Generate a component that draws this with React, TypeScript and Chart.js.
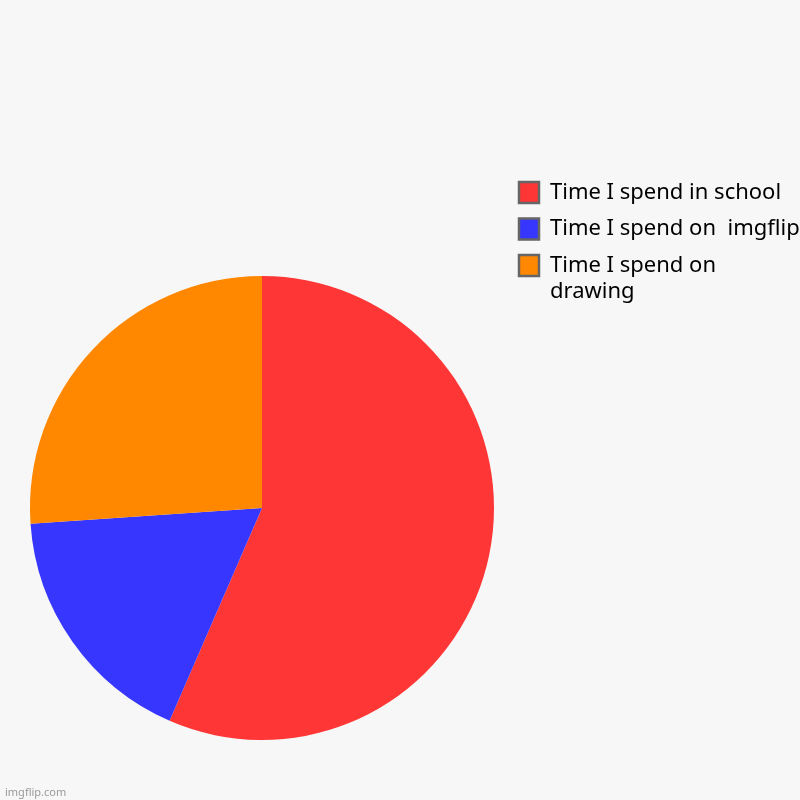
import React, { useEffect, useRef } from "react";
import Chart from "chart.js/auto";

const labels: (string | string[])[] = [
    "Time I spend in school",
    "Time I spend on  imgflip",
    ["Time I spend on", "drawing"],
];
const values = [13, 4, 6];
const colors = ["#ff3636", "#3636ff", "#ff8800"];

const App = () => {
    const canvasRef = useRef<HTMLCanvasElement>(null);

    useEffect(() => {
        const ctx = canvasRef.current!.getContext("2d") as CanvasRenderingContext2D;
        const config: any = {
            type: "pie",
            data: {
                labels: labels,
                datasets: [
                    {
                        data: values,
                        backgroundColor: colors,
                        borderWidth: 0,
                        radius: 232,
                    },
                ],
            },
            options: {
                animation: false,
                responsive: false,
                maintainAspectRatio: false,
                layout: { padding: { top: 167, left: 19.5, right: 0, bottom: 1 } },
                plugins: {
                    tooltip: { enabled: false },
                    legend: {
                        position: "right",
                        align: "start",
                        maxWidth: 295.5,
                        labels: {
                            boxWidth: 20,
                            boxHeight: 21,
                            padding: 14.5,
                            color: "#111",
                            font: { family: "'Noto Sans'", size: 22, lineHeight: 1.18 },
                            generateLabels: (chart: any) =>
                                labels.map((text, i) => ({
                                    text: text,
                                    fillStyle: colors[i],
                                    strokeStyle: "#666",
                                    lineWidth: 2.5,
                                    hidden: false,
                                    index: i,
                                })),
                        },
                    },
                },
            },
        };
        const chart = new Chart(ctx, config);
        return () => chart.destroy();
    }, []);

    return (
        <div style={{ position: "fixed", left: 0, top: 0, width: 800, height: 850, background: "#f7f7f7" }}>
            <canvas ref={canvasRef} width={800} height={850} style={{ width: 800, height: 850, display: "block" }} />
            <div
                style={{
                    position: "absolute",
                    left: 5,
                    top: 784,
                    fontFamily: "'Noto Sans'",
                    fontSize: 11,
                    color: "#999",
                }}
            >
                imgflip.com
            </div>
        </div>
    );
};

export default App;
